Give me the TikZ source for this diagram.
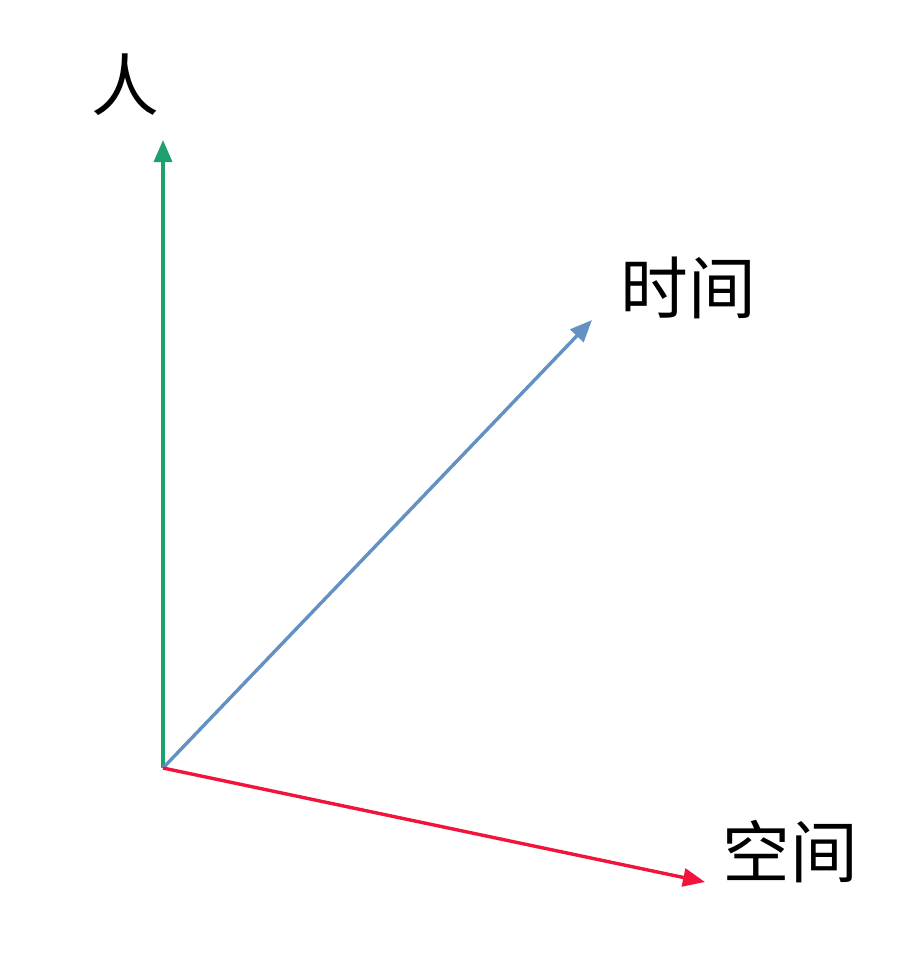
\documentclass[tikz,border=0pt]{standalone}
\usepackage{fontspec}
\newfontfamily\cjk{Noto Sans CJK SC}
\usetikzlibrary{arrows.meta}
\definecolor{axisgreen}{RGB}{28,160,110}
\definecolor{axisblue}{RGB}{100,145,195}
\definecolor{axisred}{RGB}{240,20,60}
\begin{document}
\begin{tikzpicture}[x=0.5bp,y=-0.5bp,
    axis/.style={line width=1.7bp,-{Triangle[length=11bp,width=9bp]}},
    lbl/.style={font=\cjk\fontsize{34}{34}\selectfont,inner sep=0pt}]
            \useasboundingbox (0,0) rectangle (922,959);
            \coordinate (O) at (163,768);
            \coordinate (renTip) at (163,140);
            \coordinate (shiTip) at (592,320);
            \coordinate (kongTip) at (705,882);
            \node[lbl] (ren) at (125,85) {人};
            \node[lbl] (shijian) at (688,288) {时间};
            \node[lbl] (kongjian) at (790,852) {空间};
            \draw[axis,axisgreen] (O) -- (renTip);
            \draw[axis,axisblue] (O) -- (shiTip);
            \draw[axis,axisred] (O) -- (kongTip);
        \end{tikzpicture}
\end{document}
